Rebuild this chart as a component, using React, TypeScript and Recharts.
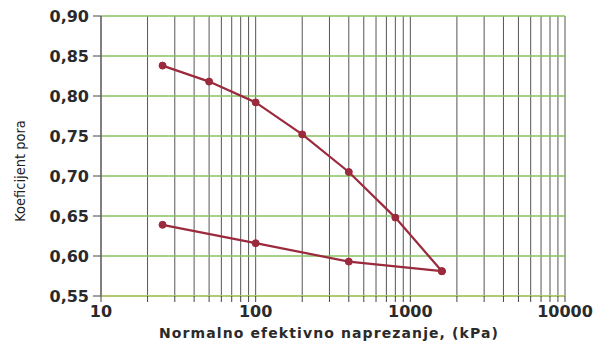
import React from 'react';
import { LineChart, Line, XAxis, YAxis, CartesianGrid } from 'recharts';

const loadingStress = [25, 50, 100, 200, 400, 800, 1600];
const loadingVoid = [0.838, 0.818, 0.792, 0.752, 0.705, 0.648, 0.581];
const unloadingStress = [1600, 400, 100, 25];
const unloadingVoid = [0.581, 0.593, 0.616, 0.639];

const xTicks = [
  10, 20, 30, 40, 50, 60, 70, 80, 90,
  100, 200, 300, 400, 500, 600, 700, 800, 900,
  1000, 2000, 3000, 4000, 5000, 6000, 7000, 8000, 9000, 10000,
];
const xLabelTicks = [10, 100, 1000, 10000];
const yTicks = [0.55, 0.6, 0.65, 0.7, 0.75, 0.8, 0.85, 0.9];

const xTitle = 'Normalno efektivno naprezanje, (kPa)';
const yTitle = 'Koeficijent pora';

const loadingData = loadingStress.map((x, i) => ({ x, e: loadingVoid[i] }));
const unloadingData = unloadingStress.map((x, i) => ({ x, e: unloadingVoid[i] }));

const LINE = '#9a2a3c';

export default function App() {
  return (
    <div style={{ width: 600, height: 336 }}>
      <LineChart width={600} height={336} margin={{ top: 8, right: 43, bottom: 0, left: 0 }}>
        <CartesianGrid stroke="#555" strokeWidth={1} horizontal={false} />
        <CartesianGrid stroke="#86c060" strokeWidth={1.3} vertical={false} />
        <XAxis
          type="number"
          dataKey="x"
          scale="log"
          domain={[10, 10000]}
          ticks={xTicks}
          allowDataOverflow
          interval={0}
          height={48}
          tickSize={6}
          tickMargin={4}
          axisLine={{ stroke: '#b6c86a', strokeWidth: 1.3 }}
          tickLine={{ stroke: '#444' }}
          tickFormatter={(v: number) => (xLabelTicks.includes(v) ? String(v) : '')}
          tick={{ fontFamily: 'DejaVu Sans', fontWeight: 'bold', fontSize: 16, fill: '#2a2a2a' }}
          label={{
            content: () => (
              <text
                x={321}
                y={330}
                textAnchor="middle"
                style={{ fontFamily: 'DejaVu Sans', fontWeight: 'bold', fontSize: 14, letterSpacing: 1.1, fill: '#2a2a2a' }}
              >
                {xTitle}
              </text>
            ),
          }}
        />
        <YAxis
          type="number"
          dataKey="e"
          domain={[0.55, 0.9]}
          ticks={yTicks}
          interval={0}
          width={93}
          tickSize={8}
          tickMargin={4}
          axisLine={{ stroke: '#555' }}
          tickLine={{ stroke: '#444' }}
          tickFormatter={(v: number) => v.toFixed(2).replace('.', ',')}
          tick={{ fontFamily: 'DejaVu Sans', fontWeight: 'bold', fontSize: 16, fill: '#2a2a2a' }}
          label={{
            content: () => (
              <text
                x={17}
                y={163}
                transform="rotate(-90 17 163)"
                textAnchor="middle"
                style={{ fontFamily: 'DejaVu Sans Condensed, DejaVu Sans', fontSize: 14.5, fill: '#222' }}
              >
                {yTitle}
              </text>
            ),
          }}
        />
        <Line
          data={loadingData}
          dataKey="e"
          stroke={LINE}
          strokeWidth={2.2}
          dot={{ r: 3.5, fill: LINE, stroke: LINE, strokeWidth: 1 }}
          isAnimationActive={false}
        />
        <Line
          data={unloadingData}
          dataKey="e"
          stroke={LINE}
          strokeWidth={2.2}
          dot={{ r: 3.5, fill: LINE, stroke: LINE, strokeWidth: 1 }}
          isAnimationActive={false}
        />
      </LineChart>
    </div>
  );
}
